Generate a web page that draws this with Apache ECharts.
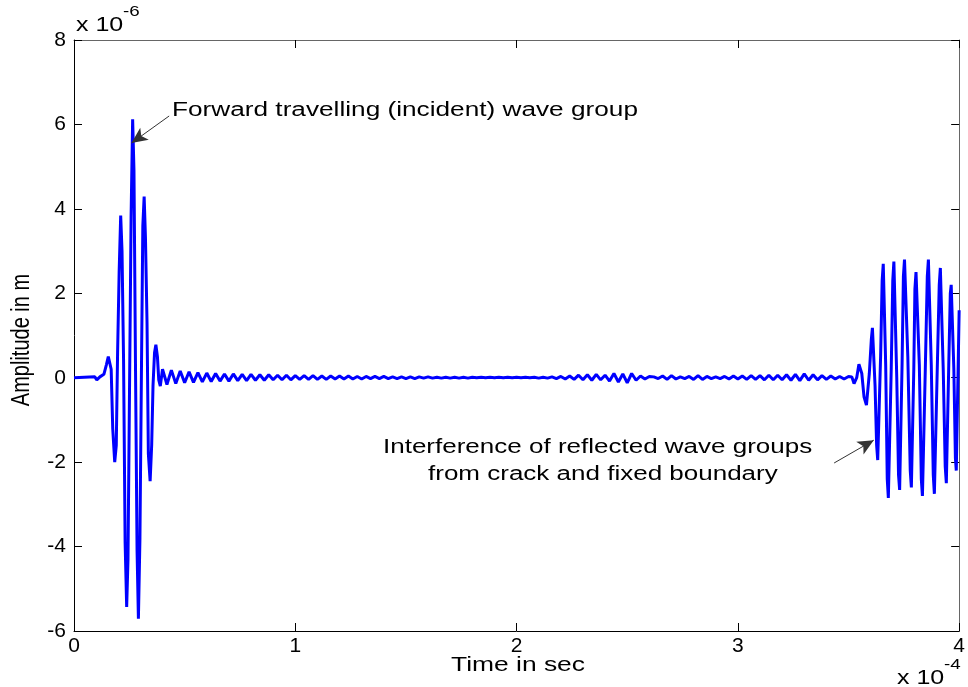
<!DOCTYPE html>
<html><head><meta charset="utf-8">
<script src="https://cdn.jsdelivr.net/npm/echarts@6/dist/echarts.min.js"></script>
<style>html,body{margin:0;padding:0;background:#fff}#c{width:968px;height:687px}</style>
</head><body><div id="c"></div>
<script>
// time in units of 1e-4 s, amplitude in units of 1e-6 m
const xTicks = [0, 1, 2, 3, 4];
const yTicks = [-6, -4, -2, 0, 2, 4, 6, 8];

// incident wave group: [time, amplitude]
const incidentGroup = [
  [0.000,0],[0.094,0.02],[0.103,-0.05],[0.117,0.02],[0.135,0.08],[0.146,0.3],[0.155,0.5],[0.161,0.54],
  [0.168,0.2],[0.175,-1.2],[0.184,-2.0],[0.191,-1.6],[0.197,0.6],[0.204,2.5],[0.211,3.84],[0.217,3.0],
  [0.224,0.4],[0.231,-3.9],[0.238,-5.43],[0.244,-4.3],[0.251,-0.2],[0.258,3.8],[0.265,6.12],[0.271,4.9],
  [0.278,0.2],[0.285,-4.1],[0.291,-5.71],[0.298,-3.8],[0.305,0.3],[0.311,3.6],[0.317,4.29],[0.323,3.3],
  [0.330,1.3],[0.336,-1.8],[0.344,-2.45],[0.351,-1.6],[0.357,-0.2],[0.364,0.6],[0.370,0.78],[0.377,0.5],
  [0.383,-0.05],[0.390,-0.2]
];

// trailing ripple, read every 0.02 (x1e-4 s) from t = 0.40 to 3.50
const rippleStart = 0.40;
const rippleStep = 0.02;
const rippleValues = [
  0.2,-0.16,0.18,-0.14,0.16,-0.12,0.14,-0.11,0.12,-0.1,0.11,
  -0.09,0.1,-0.08,0.09,-0.08,0.09,-0.07,0.08,-0.07,0.08,-0.06,0.07,-0.06,0.07,-0.05,0.06,-0.05,0.06,-0.05,0.05,
  -0.04,0.05,-0.04,0.05,-0.04,0.04,-0.04,0.04,-0.03,0.04,-0.03,0.04,-0.03,0.03,-0.03,0.03,-0.02,0.03,-0.02,0.03,-0.02,0.02,-0.02,0.02,-0.02,
  0.02,-0.02,0.02,-0.01,0.02,-0.01,0.01,-0.01,0.01,-0.01,0.01,-0.01,0.01,-0.01,0.01,0,0.01,0,0.01,0,0.01,0,0.01,0,0.01,
  0,0.01,0,0.01,-0.01,0.01,-0.01,0.02,-0.02,0.03,-0.03,0.04,-0.04,0.06,-0.05,
  0.07,-0.06,0.08,-0.05,0.06,-0.08,0.1,-0.1,0.09,-0.12,0.1,-0.06,0.04,-0.03,0.03,
  0.02,-0.02,0.04,-0.04,0.05,-0.03,0.02,-0.02,0.03,-0.04,0.05,-0.04,0.03,-0.02,0.02,-0.02,0.03,-0.03,0.04,-0.03,
  0.04,-0.04,0.05,-0.04,0.05,-0.05,0.06,-0.05,0.06,-0.05,0.07,-0.06,0.08,-0.07,0.09,-0.06,0.07,-0.05,0.05,-0.04,0.04,-0.03,0.03,-0.03,0.03
];

// reflected / interfering wave groups: [time, amplitude]
const reflectedGroup = [
  [3.515,0.02],[3.525,-0.14],[3.537,0.0],[3.547,0.32],[3.560,0.1],[3.570,-0.45],[3.581,-0.65],[3.594,0.1],
  [3.603,0.9],[3.608,1.18],[3.620,-0.2],[3.627,-1.6],[3.632,-1.95],[3.645,0.5],[3.652,2.3],[3.657,2.7],
  [3.668,0.3],[3.675,-2.4],[3.680,-2.85],[3.693,0.2],[3.700,2.3],[3.705,2.75],[3.718,0.0],[3.726,-2.3],
  [3.731,-2.66],[3.742,0.3],[3.748,2.4],[3.753,2.8],[3.768,0.5],[3.779,-2.2],[3.784,-2.6],[3.795,0.2],
  [3.800,2.1],[3.805,2.5],[3.820,0.3],[3.829,-2.4],[3.834,-2.8],[3.847,0.2],[3.856,2.4],[3.861,2.8],
  [3.874,0.3],[3.883,-2.3],[3.888,-2.75],[3.901,0.2],[3.910,2.2],[3.915,2.6],[3.928,0.2],[3.937,-2.1],
  [3.942,-2.5],[3.953,0.3],[3.960,2.0],[3.964,2.2],[3.976,0.2],[3.983,-1.9],[3.987,-2.2],[4.000,1.6]
];

const signal = incidentGroup
  .concat(rippleValues.map((v, i) => [+(rippleStart + i * rippleStep).toFixed(3), v]))
  .concat(reflectedGroup);

const chart = echarts.init(document.getElementById('c'));
const FONT = '"Liberation Sans", Arial, Helvetica, sans-serif';
function axisBase(color) {
  return {
    axisLine: { show: true, onZero: false, lineStyle: { color: color, width: 1 } },
    axisTick: { show: true, inside: true, length: 8, lineStyle: { color: '#000' } },
    splitLine: { show: false }
  };
}
chart.setOption({
  animation: false,
  backgroundColor: '#fff',
  grid: { left: 74, right: 2, top: 40, bottom: 56, containLabel: false },
  xAxis: [
    Object.assign({ type: 'value', min: xTicks[0], max: xTicks[xTicks.length - 1], interval: 1, position: 'bottom',
      axisLabel: { fontFamily: FONT, fontSize: 21, color: '#000', margin: 5 } }, axisBase('#000')),
    Object.assign({ type: 'value', min: xTicks[0], max: xTicks[xTicks.length - 1], interval: 1, position: 'top',
      axisLabel: { show: false } }, axisBase('#666'))
  ],
  yAxis: [
    Object.assign({ type: 'value', min: yTicks[0], max: yTicks[yTicks.length - 1], interval: 2, position: 'left',
      axisLabel: { fontFamily: FONT, fontSize: 21, color: '#000', margin: 8 } }, axisBase('#000')),
    Object.assign({ type: 'value', min: yTicks[0], max: yTicks[yTicks.length - 1], interval: 2, position: 'right',
      axisLabel: { show: false } }, axisBase('#666'))
  ],
  series: [{
    type: 'line', xAxisIndex: 0, yAxisIndex: 0, data: signal, showSymbol: false, symbol: 'none',
    lineStyle: { color: '#0000ff', width: 3 }, clip: true,
    markLine: {
      silent: true, animation: false, symbol: ['none', 'arrow'], symbolSize: [11, 16],
      label: { show: false },
      lineStyle: { color: '#333', width: 1, type: 'solid' },
      itemStyle: { color: '#000' },
      data: [
        [{ coord: [0.430, 6.20] }, { coord: [0.260, 5.56] }],
        [{ coord: [3.435, -2.02] }, { coord: [3.614, -1.48] }]
      ]
    }
  }],
  graphic: [
    { type: 'text', x: 172, y: 110, scaleX: 1.31, style: { text: 'Forward travelling (incident) wave group', font: '20px ' + FONT, fill: '#000', textVerticalAlign: 'middle' } },
    { type: 'text', x: 383, y: 447, scaleX: 1.30, style: { text: 'Interference of reflected wave groups', font: '20px ' + FONT, fill: '#000', textVerticalAlign: 'middle' } },
    { type: 'text', x: 428, y: 474, scaleX: 1.30, style: { text: 'from crack and fixed boundary', font: '20px ' + FONT, fill: '#000', textVerticalAlign: 'middle' } },
    { type: 'text', x: 518, y: 665, scaleX: 1.32, style: { text: 'Time in sec', font: '20px ' + FONT, fill: '#000', textAlign: 'center', textVerticalAlign: 'middle' } },
    { type: 'text', x: 22, y: 340, rotation: Math.PI / 2, scaleY: 1.28, style: { text: 'Amplitude in m', font: '20px ' + FONT, fill: '#000', textAlign: 'center', textVerticalAlign: 'middle' } },
    { type: 'text', x: 76, y: 25, scaleX: 1.25, style: { text: 'x 10', font: '20px ' + FONT, fill: '#000', textVerticalAlign: 'middle' } },
    { type: 'text', x: 123, y: 12, scaleX: 1.25, style: { text: '-6', font: '15px ' + FONT, fill: '#000', textVerticalAlign: 'middle' } },
    { type: 'text', x: 897, y: 678, scaleX: 1.25, style: { text: 'x 10', font: '20px ' + FONT, fill: '#000', textVerticalAlign: 'middle' } },
    { type: 'text', x: 944, y: 665, scaleX: 1.25, style: { text: '-4', font: '15px ' + FONT, fill: '#000', textVerticalAlign: 'middle' } }
  ]
});
</script></body></html>
